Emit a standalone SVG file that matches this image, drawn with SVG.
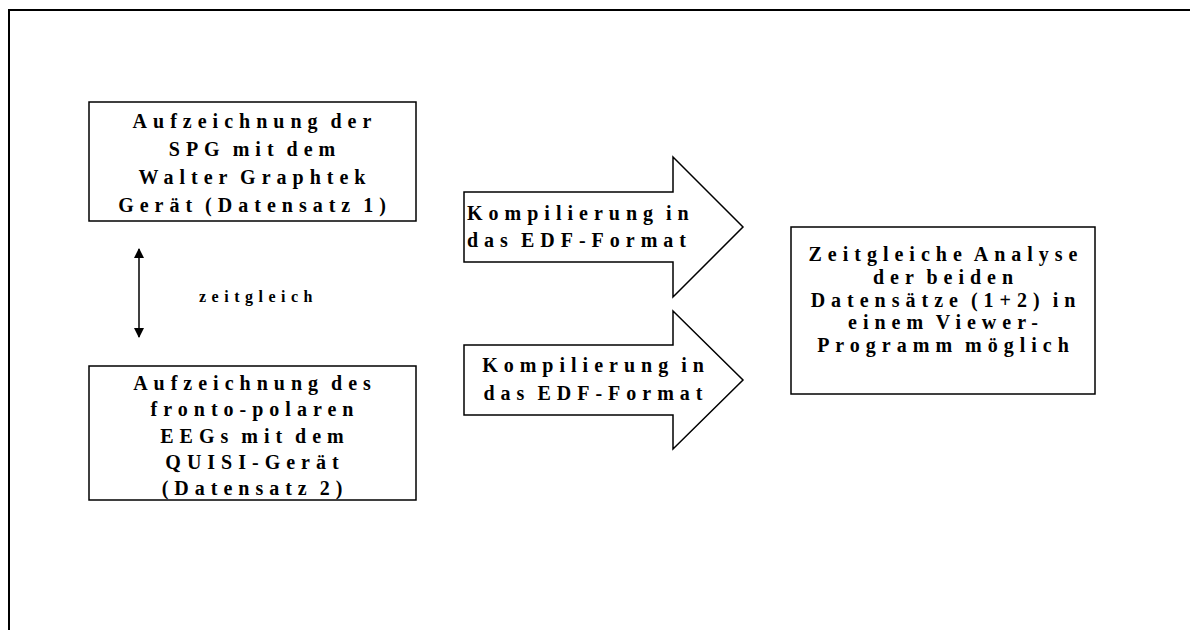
<svg xmlns="http://www.w3.org/2000/svg" width="1190" height="630" viewBox="0 0 1190 630">
<style>
.frame{stroke:#000;stroke-width:2;fill:none}
.box{fill:#fff;stroke:#000;stroke-width:1.5}
.t{font-family:"Liberation Serif","Times New Roman",serif;font-weight:bold;font-size:20px;letter-spacing:6px;word-spacing:-4px;fill:#000;text-anchor:middle}
.tl{font-family:"Liberation Serif","Times New Roman",serif;font-weight:bold;font-size:20px;letter-spacing:6px;word-spacing:-4px;fill:#000}
.s{font-family:"Liberation Serif","Times New Roman",serif;font-weight:bold;font-size:16px;letter-spacing:5.5px;fill:#000}
.con{stroke:#000;stroke-width:1.5;fill:none}
</style>
<defs>
<marker id="ah" viewBox="0 0 10 10" refX="9" refY="5" markerWidth="10" markerHeight="10" markerUnits="userSpaceOnUse" orient="auto-start-reverse">
<path d="M0,0 L10,5 L0,10 z" fill="#000"/>
</marker>
</defs>
<rect width="1190" height="630" fill="#fff"/>
<path class="frame" d="M9,630 V10 H1190"/>

<g id="box1">
<rect class="box" x="89" y="102" width="327" height="119"/>
<text class="t" x="255" y="128">Aufzeichnung der</text>
<text class="t" x="255" y="156">SPG mit dem</text>
<text class="t" x="255" y="184">Walter Graphtek</text>
<text class="t" x="255" y="212">Gerät (Datensatz 1)</text>
</g>

<g id="box2">
<rect class="box" x="89" y="366" width="327" height="134"/>
<text class="t" x="255" y="390">Aufzeichnung des</text>
<text class="t" x="255" y="416">fronto-polaren</text>
<text class="t" x="255" y="443">EEGs mit dem</text>
<text class="t" x="255" y="469">QUISI-Gerät</text>
<text class="t" x="255" y="495">(Datensatz 2)</text>
</g>

<g id="label-zeitgleich">
<text class="s" x="199" y="302">zeitgleich</text>
</g>

<g id="arrow1">
<polygon class="box" points="464,192 673,192 673,157 743,227 673,297 673,262 464,262"/>
<text class="tl" x="467" y="220">Kompilierung in</text>
<text class="tl" x="467" y="247">das EDF-Format</text>
</g>

<g id="arrow2">
<polygon class="box" points="464,345 673,345 673,311 743,380 673,449 673,415 464,415"/>
<text class="t" x="596" y="372">Kompilierung in</text>
<text class="t" x="596" y="400">das EDF-Format</text>
</g>

<g id="box3">
<rect class="box" x="791" y="227" width="304" height="167"/>
<text class="t" x="946" y="261">Zeitgleiche Analyse</text>
<text class="t" x="946" y="284">der beiden</text>
<text class="t" x="946" y="307">Datensätze (1+2) in</text>
<text class="t" x="946" y="329">einem Viewer-</text>
<text class="t" x="946" y="352">Programm möglich</text>
</g>

<g id="connectors">
<line class="con" x1="139" y1="249" x2="139" y2="337" marker-start="url(#ah)" marker-end="url(#ah)"/>
</g>
</svg>
